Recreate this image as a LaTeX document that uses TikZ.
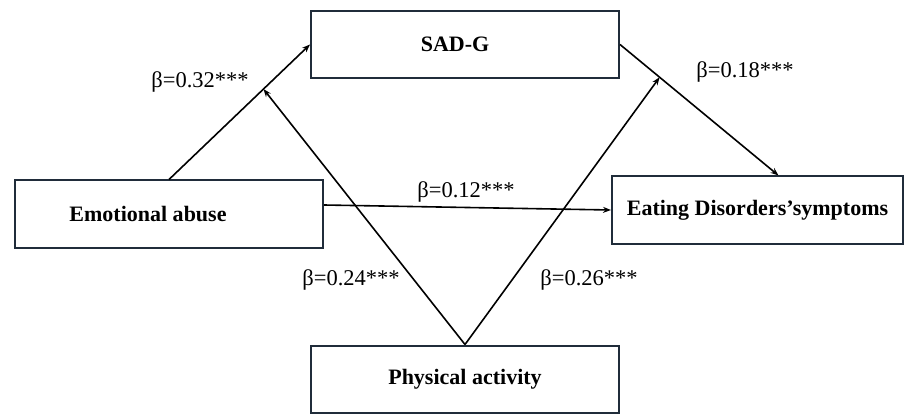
\documentclass[tikz,border=0pt]{standalone}
\usepackage{fontspec}
\setmainfont{Liberation Serif}
\usetikzlibrary{arrows.meta}
\definecolor{boxline}{RGB}{32,44,58}
\tikzset{
  box/.style={draw=boxline, line width=2pt, minimum width=308pt, minimum height=67pt, inner sep=0pt,
    font=\fontsize{22}{26}\selectfont\bfseries},
  arr/.style={draw=black, line width=1.6pt, -{Stealth[length=8pt,width=6pt]}},
  coef/.style={font=\fontsize{22.5}{26}\selectfont, inner sep=0pt}
}
\begin{document}
\begin{tikzpicture}[x=1pt,y=-1pt]
\useasboundingbox (0,0) rectangle (904,414);
\node[box] (SAD) at (465,44.5) {SAD-G\hspace*{20pt}};
\node[box] (EA) at (169,214) {Emotional abuse\hspace*{42pt}};
\node[box, minimum width=291pt] (ED) at (757.5,210) {Eating Disorders’symptoms};
\node[box] (PA) at (465,379) {Physical activity};

\path (EA.north) -- (SAD.west) coordinate[pos=0.67] (m1);
\path (SAD.east) -- ([xshift=21pt]ED.north) coordinate[pos=0.25] (m2);

\draw[arr] (EA.north) -- (SAD.west);
\draw[arr] (SAD.east) -- ([xshift=21pt]ED.north);
\draw[arr] ([yshift=9pt]EA.east) -- (ED.west);
\draw[arr] (PA.north) -- (m1);
\draw[arr] (PA.north) -- (m2);

\node[coef] (l1) at (200,82) {β=0.32***};
\node[coef] (l2) at (466,192) {β=0.12***};
\node[coef] (l3) at (745,72) {β=0.18***};
\node[coef] (l4) at (351,280) {β=0.24***};
\node[coef] (l5) at (589,280) {β=0.26***};
\end{tikzpicture}
\end{document}
